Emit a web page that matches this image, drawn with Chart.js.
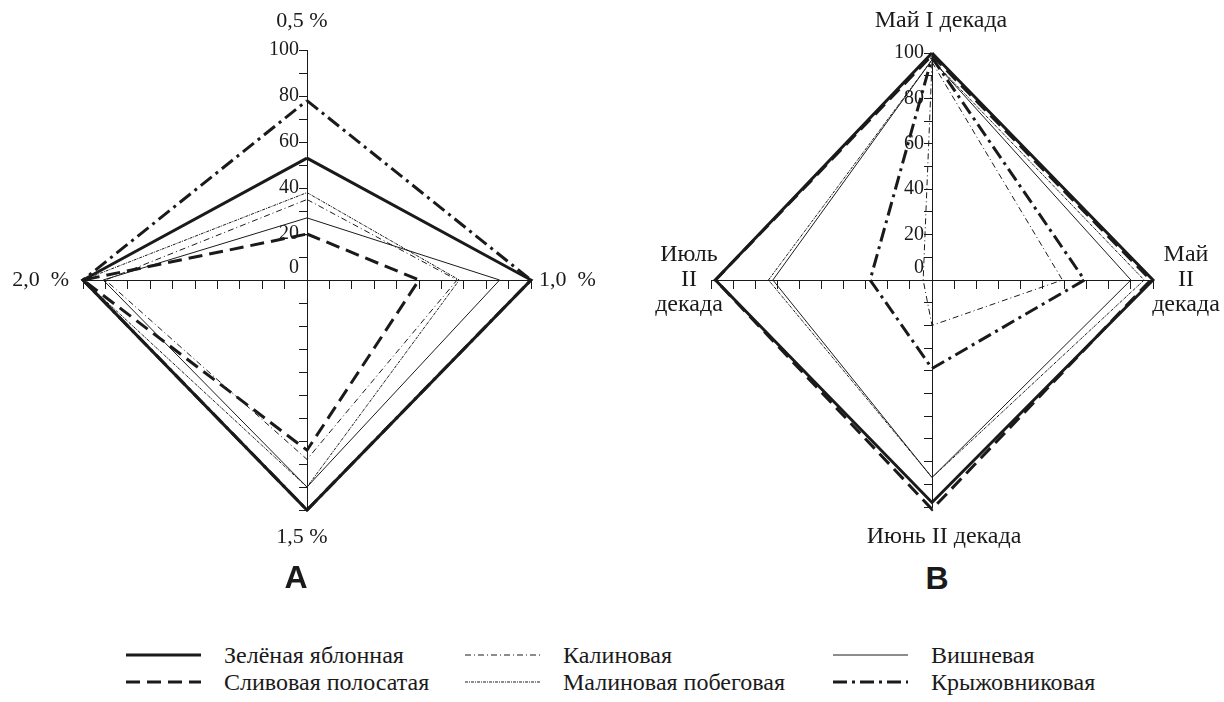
<!DOCTYPE html>
<html lang="ru">
<head>
<meta charset="utf-8">
<script src="https://cdn.jsdelivr.net/npm/chart.js@4.4.1/dist/chart.umd.min.js"></script>
<style>
  html, body { margin: 0; padding: 0; background: #fff; }
  #page { position: relative; width: 1224px; height: 702px; overflow: hidden;
          font-family: 'Liberation Serif', 'Times New Roman', serif; color: #1a1a1a; }
  canvas { position: absolute; top: 0; }
  .panel { position: absolute; font-family: 'Liberation Sans Narrow', 'Liberation Sans', sans-serif;
           font-weight: bold; font-size: 32px; line-height: 32px; transform: translateX(-50%); }
  .legend-item { position: absolute; display: flex; align-items: center; height: 26px;
                 font-size: 24px; white-space: nowrap; }
  .legend-item svg { margin-right: 23px; }
</style>
</head>
<body>
<div id="page">
  <canvas id="chartA" width="612" height="560" style="left:0"></canvas>
  <canvas id="chartB" width="612" height="560" style="left:612px"></canvas>
  <div class="panel" style="left:296px; top:561px">A</div>
  <div class="panel" style="left:937px; top:562px">B</div>
  <div id="legend"></div>
</div>
<script>
// axis captions, clockwise from the top
const axesA = ['0,5 %', '1,0  %', '1,5 %', '2,0  %'];
const axesB = [['Май I декада'], ['Май', 'II', 'декада'], ['Июнь II декада'], ['Июль', 'II', 'декада']];
const tickLabels = [0, 20, 40, 60, 80, 100];

const seriesNames = ['Зелёная яблонная', 'Сливовая полосатая', 'Калиновая',
                     'Малиновая побеговая', 'Вишневая', 'Крыжовниковая'];

// values per axis: [top, right, bottom, left]
const zelenayaA        = [53, 100, 100, 100];
const slivovayaA       = [20, 50, 74, 100];
const kalinovayaA      = [35, 67, 78, 90];
const malinovayaA      = [38, 68, 90, 100];
const vishnevayaA      = [27, 86, 90, 91];
const kryzhovnikovayaA = [78, 100, 100, 100];

const zelenayaB        = [100, 100, 98, 98];
const slivovayaB       = [99, 99, 101, 98];
const kalinovayaB      = [96, 59, 20, 4];
const malinovayaB      = [97, 96, 87, 74];
const vishnevayaB      = [97, 90, 87, 72];
const kryzhovnikovayaB = [98, 69, 39, 28];

const ink = '#1a1a1a';
const lineStyles = [
  { width: 3, dash: [] },
  { width: 3, dash: [14, 7] },
  { width: 1, dash: [6, 3, 1, 3] },
  { width: 1, dash: [3, 1, 1, 1] },
  { width: 1, dash: [] },
  { width: 3, dash: [14, 5, 3, 5] },
];

// diamond: top, right, bottom, left, back to top
const toPolygon = v => [
  { x: 0, y: v[0] }, { x: v[1], y: 0 }, { x: 0, y: -v[2] }, { x: -v[3], y: 0 }, { x: 0, y: v[0] }
];

const makeDatasets = series => series.map((values, i) => ({
  label: seriesNames[i],
  data: toPolygon(values),
  borderColor: ink,
  borderWidth: lineStyles[i].width,
  borderDash: lineStyles[i].dash,
  borderJoinStyle: 'miter',
  pointRadius: 0,
  tension: 0,
  fill: false,
  clip: false,
}));

// captions at the ends of the four axes
const axisLabels = {
  id: 'axisLabels',
  afterDraw(chart, args, opts) {
    const { ctx, scales: { x, y } } = chart;
    const cx = x.getPixelForValue(0), cy = y.getPixelForValue(0);
    const ends = [
      [cx, y.getPixelForValue(100)],
      [x.getPixelForValue(100), cy],
      [cx, y.getPixelForValue(-100)],
      [x.getPixelForValue(-100), cy],
    ];
    ctx.save();
    ctx.font = opts.size + 'px "Liberation Serif", serif';
    ctx.fillStyle = ink;
    ctx.textBaseline = 'middle';
    opts.labels.forEach((label, i) => {
      const lines = [].concat(label);
      const p = opts.place[i];
      ctx.textAlign = p.align;
      const x0 = ends[i][0] + p.dx;
      const y0 = ends[i][1] + p.dy - (lines.length - 1) * 25 / 2;
      lines.forEach((t, k) => ctx.fillText(t, x0, y0 + k * 25));
    });
    ctx.restore();
  }
};

const makeOptions = (labels, size, place, padding) => ({
  responsive: false,
  animation: false,
  layout: { padding },
  scales: {
    x: {
      type: 'linear', min: -100, max: 100,
      position: { y: 0 },
      grid: { drawOnChartArea: false, tickLength: 8, color: ink },
      border: { color: ink, width: 1 },
      ticks: { stepSize: 10, autoSkip: false, callback: () => '' },
    },
    y: {
      type: 'linear', min: -100, max: 100,
      position: { x: 0 },
      grid: { drawOnChartArea: false, tickLength: 8, color: ink },
      border: { color: ink, width: 1 },
      ticks: {
        stepSize: 10, autoSkip: false, padding: 1, color: ink,
        font: { family: '"Liberation Serif", serif', size: 20 },
        callback: v => {
          if (!tickLabels.includes(v)) return '';
          // thin spaces keep the label clear of the tick marks
          return v === 0 ? ['0\u2009\u2009', ''] : v + '\u2009\u2009';
        }
      },
    },
  },
  plugins: {
    legend: { display: false },
    tooltip: { enabled: false },
    axisLabels: { labels, size, place },
  },
});

new Chart(document.getElementById('chartA'), {
  type: 'line',
  data: { datasets: makeDatasets([zelenayaA, slivovayaA, kalinovayaA, malinovayaA, vishnevayaA, kryzhovnikovayaA]) },
  options: makeOptions(axesA, 22, [
    { align: 'center', dx: -5, dy: -29 },
    { align: 'left', dx: 8, dy: 0 },
    { align: 'center', dx: -5, dy: 27 },
    { align: 'right', dx: -14, dy: 0 },
  ], { left: 83, right: 81, top: 50, bottom: 50 }),
  plugins: [axisLabels],
});

new Chart(document.getElementById('chartB'), {
  type: 'line',
  data: { datasets: makeDatasets([zelenayaB, slivovayaB, kalinovayaB, malinovayaB, vishnevayaB, kryzhovnikovayaB]) },
  options: makeOptions(axesB, 24, [
    { align: 'center', dx: 9, dy: -32 },
    { align: 'center', dx: 33, dy: 0 },
    { align: 'center', dx: 12, dy: 30 },
    { align: 'center', dx: -22, dy: 0 },
  ], { left: 99, right: 71, top: 53, bottom: 53 }),
  plugins: [axisLabels],
});

// legend: three columns of two rows
const legendCols = [126, 465, 833];
const legendRows = [655, 682];
const legend = document.getElementById('legend');
seriesNames.forEach((name, i) => {
  const col = Math.floor(i / 2), row = i % 2;
  const s = lineStyles[i];
  const item = document.createElement('div');
  item.className = 'legend-item';
  item.style.left = legendCols[col] + 'px';
  item.style.top = (legendRows[row] - 13) + 'px';
  item.innerHTML = '<svg width="75" height="8"><line x1="0" y1="4" x2="75" y2="4" stroke="' + ink +
    '" stroke-width="' + s.width + '" stroke-dasharray="' + (s.dash.join(' ') || 'none') + '"/></svg>' +
    '<span>' + name + '</span>';
  legend.appendChild(item);
});
</script>
</body>
</html>
